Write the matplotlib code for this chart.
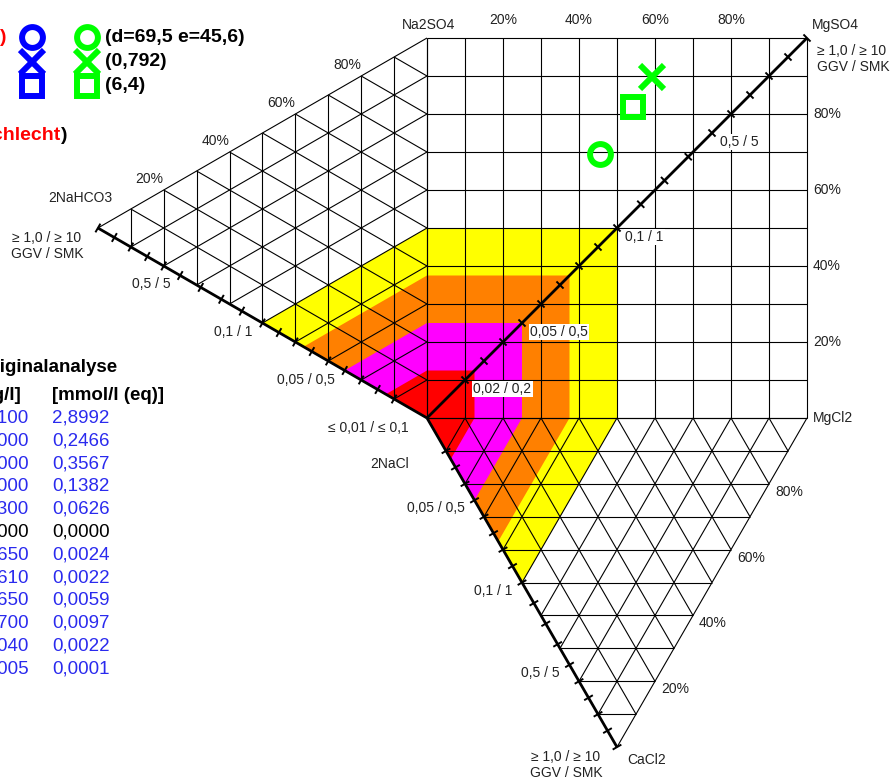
import numpy as np
import matplotlib.pyplot as plt
from matplotlib.collections import LineCollection
from matplotlib.patches import Polygon

plt.rcParams['font.family'] = ['Liberation Sans', 'DejaVu Sans']

# sample plotted in the sulfate square: e = MgSO4 share (x, %), d = SO4 share (y, %)
point_x = [45.6, 59.1, 54.1]
point_y = [69.5, 89.7, 81.8]
point_marker = ['o', 'x', 's']
point_size = [15, 17, 15]
point_text = ['(d=69,5 e=45,6)', '(0,792)', '(6,4)']

# GGV limits of the coloured zones (mmol/l), outermost first
zone_ggv = [0.1, 0.075, 0.05, 0.025]
zone_color = ['#ffff00', '#ff8000', '#ff00ff', '#ff0000']

# piecewise scale of the three thick axes: GGV -> fraction of the side
scale_ggv = [0.0, 0.1, 0.5, 1.0]
scale_frac = [0.0, 0.5, 0.75, 1.0]
tick_ggv = [0.02, 0.03, 0.04, 0.05, 0.06, 0.07, 0.08, 0.09, 0.1,
            0.2, 0.3, 0.4, 0.5, 0.6, 0.7, 0.8, 0.9, 1.0]

diag_label_ggv = [0.02, 0.05, 0.1, 0.5]
diag_label_text = ['0,02 / 0,2', '0,05 / 0,5', '0,1 / 1', '0,5 / 5']
edge_label_ggv = [0.05, 0.1, 0.5]
edge_label_text = ['0,05 / 0,5', '0,1 / 1', '0,5 / 5']
end_label = '\u2265 1,0 / \u2265 10\nGGV / SMK'
origin_label = '\u2264 0,01 / \u2264 0,1'

pct_values = [20, 40, 60, 80]
pct_text = ['20%', '40%', '60%', '80%']

# Originalanalyse table
mg_l = ['176,9100', '3,0000', '7,0000', '4,9000', '1,1300', '0,0000',
        '0,0650', '0,0610', '0,1650', '0,2700', '0,1040', '0,0005']
mmol_eq = ['2,8992', '0,2466', '0,3567', '0,1382', '0,0626', '0,0000',
           '0,0024', '0,0022', '0,0059', '0,0097', '0,0022', '0,0001']

# ---------------------------------------------------------------------
W, H = 893, 780
fig = plt.figure(figsize=(W / 100, H / 100), dpi=100)
ax = fig.add_axes([0, 0, 1, 1])
ax.set_xlim(0, W)
ax.set_ylim(H, 0)
ax.axis('off')

O = np.array([427.0, 418.0])
S = 380.0
c30 = np.sqrt(3) / 2
B = O + [0, -S]              # Na2SO4
M = O + [S, -S]              # MgSO4
D = O + [S, 0]               # MgCl2
C = O + [-S * c30, -S / 2]   # 2NaHCO3
E = O + [S / 2, S * c30]     # CaCl2


def frac(v):
    return np.interp(v, scale_ggv, scale_frac)


def sq(x, y):
    return O + S * np.array([x / 100.0, -y / 100.0])


# coloured zones
for v, col in zip(zone_ggv, zone_color):
    f = frac(v)
    pts = [O, O + f * (C - O), O + f * (B - O), O + f * (M - O),
           O + f * (D - O), O + f * (E - O)]
    ax.add_patch(Polygon(pts, closed=True, fc=col, ec='none', zorder=1))

# grids
segs = []
for k in range(11):
    t = k / 10
    segs.append([O + t * (D - O), O + t * (D - O) + (B - O)])
    segs.append([O + t * (B - O), O + t * (B - O) + (D - O)])


def tri_grid(p, q, r):
    out = [[p, q], [q, r], [r, p]]
    for k in range(1, 10):
        t = k / 10
        out.append([p + t * (q - p), p + t * (r - p)])
        out.append([q + t * (p - q), q + t * (r - q)])
        out.append([r + t * (p - r), r + t * (q - r)])
    return out


segs += tri_grid(O, B, C)
segs += tri_grid(O, D, E)
ax.add_collection(LineCollection(segs, colors='black', linewidths=0.8, zorder=2))

# thick axes with ticks
for end in (M, C, E):
    ax.plot([O[0], end[0]], [O[1], end[1]], color='black', lw=2.0, zorder=3,
            solid_capstyle='butt')
    u = (end - O) / np.linalg.norm(end - O)
    n = np.array([-u[1], u[0]])
    ticks = []
    for v in tick_ggv:
        p = O + frac(v) * (end - O)
        ticks.append([p - 5 * n, p + 5 * n])
    ax.add_collection(LineCollection(ticks, colors='black', linewidths=1.4, zorder=3))

small = dict(fontsize=10, color='#222222', zorder=4)

# scale labels on the diagonal
for v, txt in zip(diag_label_ggv, diag_label_text):
    p = O + frac(v) * (M - O)
    ax.text(p[0] + 8, p[1] + 9, txt, ha='left', va='center',
            bbox=dict(fc='white', ec='none', pad=1.0), **small)
ax.text(M[0] + 10, M[1] + 21, end_label, ha='left', va='center',
        linespacing=1.15, **small)

# scale labels on the 2NaHCO3 and 2NaCl axes
for v, txt in zip(edge_label_ggv, edge_label_text):
    p = O + frac(v) * (C - O)
    ax.text(p[0] - 10, p[1] + 9, txt, ha='right', va='center', **small)
    p = O + frac(v) * (E - O)
    ax.text(p[0] - 10, p[1] + 8, txt, ha='right', va='center', **small)
ax.text(O[0] - 18, O[1] + 10, origin_label, ha='right', va='center', **small)
ax.text(C[0] - 51, C[1] + 18, end_label, ha='center', va='center',
        linespacing=1.15, **small)
ax.text(E[0] - 51, E[1] + 18, end_label, ha='center', va='center',
        linespacing=1.15, **small)

# corner names
ax.text(B[0] + 28, B[1] - 13, 'Na2SO4', ha='right', va='center', **small)
ax.text(M[0] + 5, M[1] - 13, 'MgSO4', ha='left', va='center', **small)
ax.text(D[0] + 6, D[1], 'MgCl2', ha='left', va='center', **small)
ax.text(E[0] + 10, E[1] + 13, 'CaCl2', ha='left', va='center', **small)
ax.text(C[0] - 50, C[1] - 30, '2NaHCO3', ha='left', va='center', **small)
ax.text(O[0] - 57, O[1] + 46, '2NaCl', ha='left', va='center', **small)

# percentage labels
for v, txt in zip(pct_values, pct_text):
    t = v / 100
    p = B + t * (M - B)
    ax.text(p[0], p[1] - 18, txt, ha='center', va='center', **small)
    p = D + t * (M - D)
    ax.text(p[0] + 6, p[1], txt, ha='left', va='center', **small)
    p = C + t * (B - C)
    ax.text(p[0] - 14, p[1] - 11, txt, ha='center', va='center', **small)
    p = E + t * (D - E)
    ax.text(p[0] + 20, p[1] + 8, txt, ha='center', va='center', **small)

# sample points
for x, y, m, ms in zip(point_x, point_y, point_marker, point_size):
    px, py = sq(x, y)
    ax.plot(px, py, marker=m, ms=ms, mew=4.3, mfc='none', mec='#00ff00',
            ls='none', zorder=5)

# legend block
ax.text(0, 38, ')', color='red', fontsize=14, fontweight='bold',
        ha='left', va='center')
for i, (m, ms, txt) in enumerate(zip(point_marker, point_size, point_text)):
    y = 37 + 24.5 * i
    ax.plot(32, y, marker=m, ms=ms, mew=4.3, mfc='none', mec='#0000ff',
            ls='none', clip_on=False, zorder=5)
    ax.plot(87, y, marker=m, ms=ms, mew=4.3, mfc='none', mec='#00ff00',
            ls='none', clip_on=False, zorder=5)
    ax.text(105, y, txt, fontsize=14, fontweight='bold', ha='left', va='center')
ax.text(61, 135, 'schlecht', color='red', fontsize=14, fontweight='bold',
        ha='right', va='center')
ax.text(61, 135, ')', color='black', fontsize=14, fontweight='bold',
        ha='left', va='center')

# analysis table
ax.text(117, 367, 'Originalanalyse', fontsize=13.5, fontweight='bold',
        ha='right', va='center')
ax.text(21, 395, '[mg/l]', fontsize=13.5, fontweight='bold', ha='right', va='center')
ax.text(52, 395, '[mmol/l (eq)]', fontsize=13.5, fontweight='bold',
        ha='left', va='center')
for i, (a, b) in enumerate(zip(mg_l, mmol_eq)):
    y = 418 + 22.8 * i
    col = 'black' if b == '0,0000' else '#2a2aee'
    ax.text(29, y, a, fontsize=13.5, color=col, ha='right', va='center')
    ax.text(52, y, b, fontsize=13.5, color=col, ha='left', va='center')

fig.savefig('out.png', dpi=100)
